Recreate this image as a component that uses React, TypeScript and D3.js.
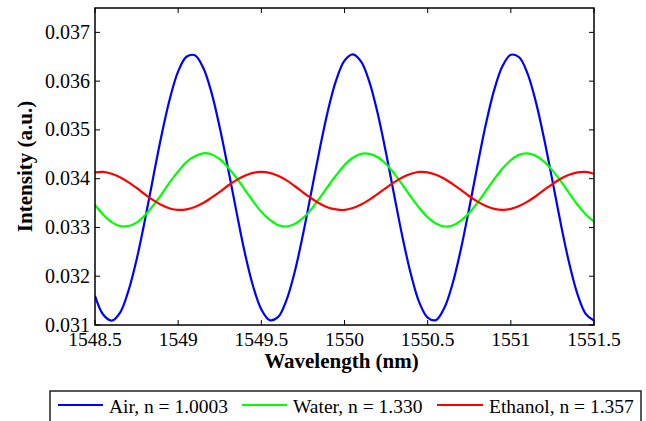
import React from "react";
import * as d3 from "d3";

const wavelengths: number[] = Array.from({ length: 61 }, (_, i) => +(1548.5 + i * 0.05).toFixed(2));

const air: number[] = [
  0.03160, 0.03121, 0.03109, 0.03125, 0.03169, 0.03234, 0.03315, 0.03403, 0.03489, 0.03564,
  0.03620, 0.03650, 0.03653, 0.03628, 0.03577, 0.03505, 0.03421, 0.03333, 0.03249, 0.03180,
  0.03132, 0.03110, 0.03116, 0.03150, 0.03208, 0.03285, 0.03372, 0.03459, 0.03539, 0.03602,
  0.03642, 0.03655, 0.03640, 0.03598, 0.03533, 0.03452, 0.03364, 0.03278, 0.03203, 0.03146,
  0.03115, 0.03110, 0.03135, 0.03185, 0.03256, 0.03340, 0.03428, 0.03512, 0.03582, 0.03631,
  0.03654, 0.03649, 0.03616, 0.03558, 0.03482, 0.03396, 0.03308, 0.03228, 0.03164, 0.03123,
  0.03109,
];

const water: number[] = [
  0.03346, 0.03326, 0.03311, 0.03303, 0.03303, 0.03310, 0.03325, 0.03345, 0.03368, 0.03393,
  0.03415, 0.03434, 0.03446, 0.03452, 0.03450, 0.03440, 0.03423, 0.03402, 0.03378, 0.03354,
  0.03332, 0.03316, 0.03305, 0.03302, 0.03307, 0.03319, 0.03337, 0.03360, 0.03384, 0.03407,
  0.03428, 0.03443, 0.03451, 0.03451, 0.03444, 0.03430, 0.03410, 0.03387, 0.03362, 0.03340,
  0.03321, 0.03308, 0.03302, 0.03304, 0.03314, 0.03330, 0.03351, 0.03375, 0.03399, 0.03421,
  0.03438, 0.03449, 0.03452, 0.03447, 0.03435, 0.03417, 0.03395, 0.03371, 0.03347, 0.03327,
  0.03312,
];

const ethanol: number[] = [
  0.03413, 0.03414, 0.03410, 0.03403, 0.03393, 0.03381, 0.03368, 0.03356, 0.03346, 0.03339,
  0.03336, 0.03337, 0.03342, 0.03350, 0.03361, 0.03373, 0.03386, 0.03397, 0.03406, 0.03412,
  0.03414, 0.03412, 0.03406, 0.03397, 0.03385, 0.03372, 0.03360, 0.03349, 0.03341, 0.03337,
  0.03336, 0.03340, 0.03347, 0.03357, 0.03369, 0.03381, 0.03393, 0.03403, 0.03410, 0.03414,
  0.03413, 0.03408, 0.03400, 0.03389, 0.03377, 0.03364, 0.03353, 0.03344, 0.03338, 0.03336,
  0.03338, 0.03344, 0.03353, 0.03364, 0.03377, 0.03389, 0.03400, 0.03408, 0.03413, 0.03414,
  0.03410,
];

const seriesNames: string[] = ["Air, n = 1.0003", "Water, n = 1.330", "Ethanol, n = 1.357"];
const seriesColors: string[] = ["#0000ff", "#00ff00", "#ff0000"];
const xTicks: number[] = [1548.5, 1549, 1549.5, 1550, 1550.5, 1551, 1551.5];
const yTicks: number[] = [0.031, 0.032, 0.033, 0.034, 0.035, 0.036, 0.037];

const W = 646;
const H = 421;
const M = { left: 95, right: 594, top: 8, bottom: 325 };
const FONT = "Liberation Serif";

export default function App() {
  const x = d3.scaleLinear().domain([1548.5, 1551.5]).range([M.left, M.right]);
  const y = d3.scaleLinear().domain([0.031, 0.0375]).range([M.bottom, M.top]);
  const allSeries = [air, water, ethanol];
  const line = d3
    .line<number>()
    .x((_, i) => x(wavelengths[i]))
    .y((d) => y(d))
    .curve(d3.curveCatmullRom);

  const tickLen = 5;
  const legendItems = [
    { lx1: 58, lx2: 103, tx: 109 },
    { lx1: 242, lx2: 287, tx: 293 },
    { lx1: 437, lx2: 483, tx: 489 },
  ];
  const ts = { fontFamily: FONT };

  return (
    <svg width={W} height={H} style={{ position: "absolute", left: 0, top: 0, background: "#fff" }}>
      <rect x={0} y={0} width={W} height={H} fill="#fff" />
      <defs>
        <clipPath id="plotclip">
          <rect x={M.left} y={M.top} width={M.right - M.left} height={M.bottom - M.top} />
        </clipPath>
      </defs>
      <g clipPath="url(#plotclip)">
        {allSeries.map((s, i) => (
          <path key={i} d={line(s) || ""} fill="none" stroke={seriesColors[i]} strokeWidth={2.2} />
        ))}
      </g>
      <rect
        x={M.left}
        y={M.top}
        width={M.right - M.left}
        height={M.bottom - M.top}
        fill="none"
        stroke="#000"
        strokeWidth={1.5}
      />
      {xTicks.map((t) => (
        <g key={"x" + t}>
          <line x1={x(t)} x2={x(t)} y1={M.bottom} y2={M.bottom - tickLen} stroke="#000" />
          <line x1={x(t)} x2={x(t)} y1={M.top} y2={M.top + tickLen} stroke="#000" />
          <text x={x(t)} y={346} textAnchor="middle" fontSize={19.5} fill="#000" style={ts}>
            {String(t)}
          </text>
        </g>
      ))}
      {yTicks.map((t) => (
        <g key={"y" + t}>
          <line x1={M.left} x2={M.left + tickLen} y1={y(t)} y2={y(t)} stroke="#000" />
          <line x1={M.right} x2={M.right - tickLen} y1={y(t)} y2={y(t)} stroke="#000" />
          <text x={90} y={y(t) + 6.5} textAnchor="end" fontSize={20} fill="#000" style={ts}>
            {t.toFixed(3)}
          </text>
        </g>
      ))}
      <text
        x={(M.left + M.right) / 2 - 3}
        y={368}
        textAnchor="middle"
        fontSize={21}
        fontWeight="bold"
        style={ts}
      >
        Wavelength (nm)
      </text>
      <text
        transform={`translate(32,${(M.top + M.bottom) / 2}) rotate(-90)`}
        textAnchor="middle"
        fontSize={21}
        fontWeight="bold"
        style={ts}
      >
        Intensity (a.u.)
      </text>
      <rect x={50} y={391} width={591} height={45} fill="#fff" stroke="#222" strokeWidth={1.5} />
      {legendItems.map((it, i) => (
        <g key={"l" + i}>
          <line x1={it.lx1} x2={it.lx2} y1={405} y2={405} stroke={seriesColors[i]} strokeWidth={2} />
          <text x={it.tx} y={413} fontSize={19.5} fill="#000" style={ts}>
            {seriesNames[i]}
          </text>
        </g>
      ))}
    </svg>
  );
}
